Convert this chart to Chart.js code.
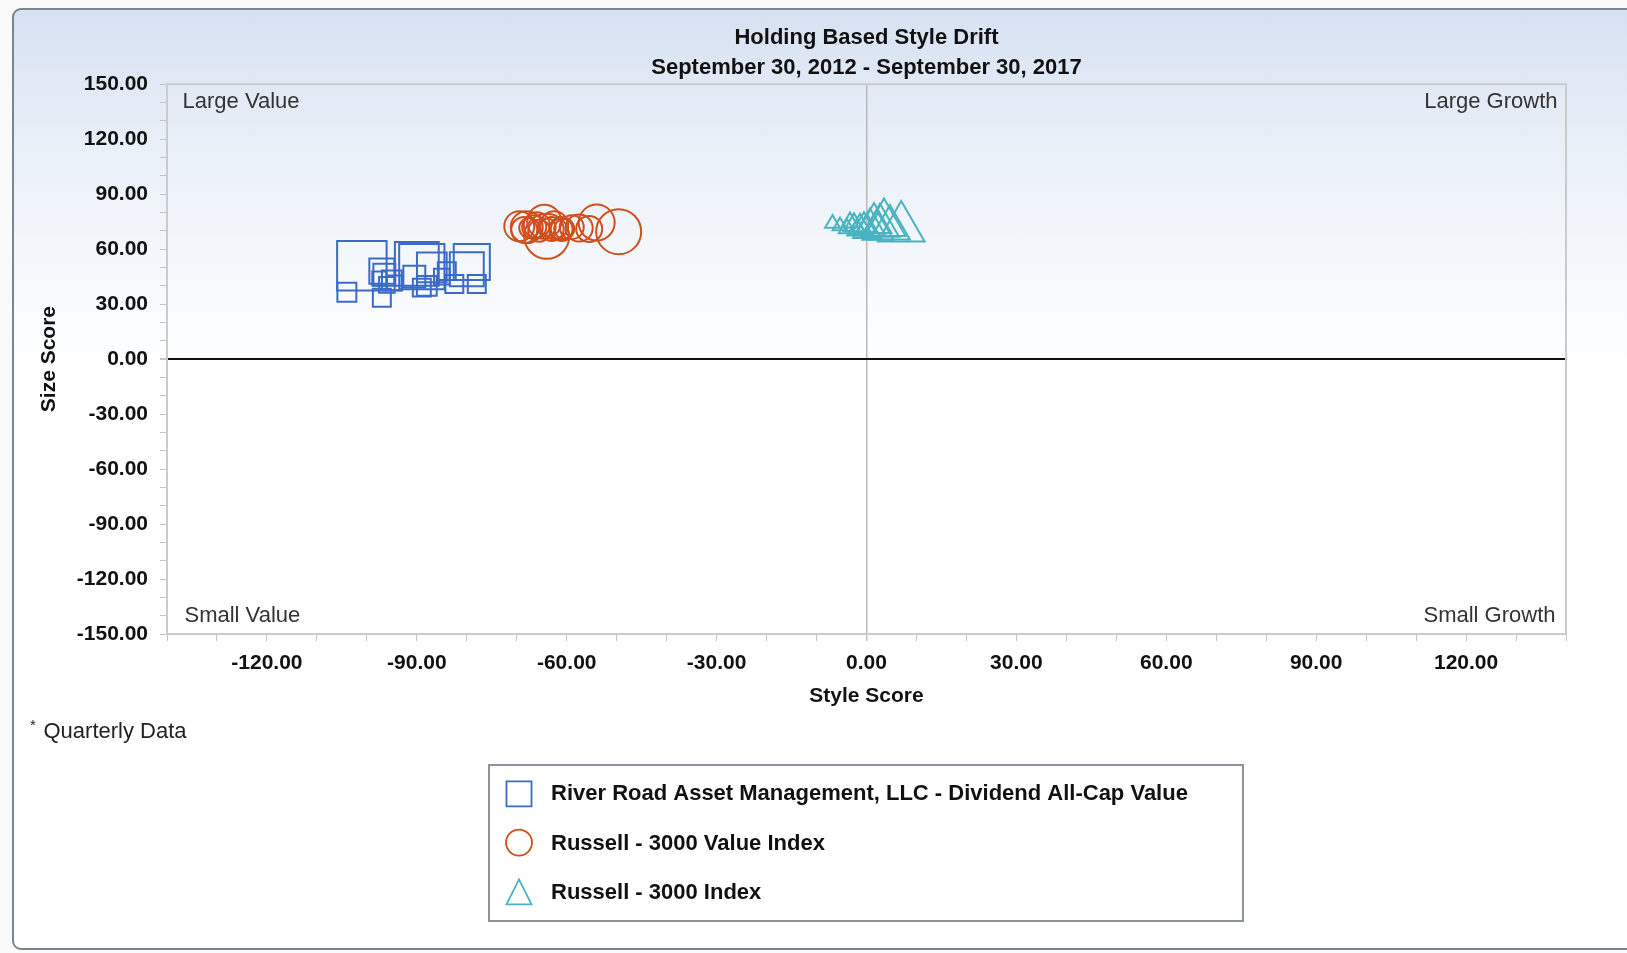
<!DOCTYPE html>
<html>
<head>
<meta charset="utf-8">
<script src="https://cdn.jsdelivr.net/npm/chart.js@4.4.0/dist/chart.umd.min.js"></script>
<style>
  html, body { margin: 0; padding: 0; background: #fafafa; overflow: hidden; }
  #frame {
    position: absolute; left: 12px; top: 8px; width: 1640px; height: 938px;
    border: 2px solid #7d868e; border-radius: 9px;
    background: linear-gradient(to bottom, #d7e1f2 0px, #eaf0f8 140px, #ffffff 360px);
  }
  #chart { position: absolute; left: 0; top: 0; }
</style>
</head>
<body>
<div id="frame"></div>
<canvas id="chart" width="1627" height="953"></canvas>
<script>
// style score (x), size score (y), bubble radius per quarter
const riverRoadStyle = [-101, -104, -97, -97, -90, -89, -89, -84, -82.5, -79, -78, -95, -96, -87, -97.5, -94.5, -88, -96.5, -85, -80, -90.5];
const riverRoadSize  = [51, 36.5, 48, 33.5, 52, 50.5, 39, 48, 41, 53, 41, 43, 40.5, 50, 44, 41.5, 40, 46, 45, 49, 45];
const riverRoadR     = [35, 13.4, 17.7, 12.7, 31, 32, 12.7, 12.7, 12.7, 25.5, 12.7, 14, 11, 21, 10, 10.5, 14, 15.5, 11, 24, 15.5];

const valueStyle = [-49.6, -54, -64, -57.5, -66.5, -69.5, -68, -61, -64.5, -61, -67.5, -60.5, -63, -66, -65.5, -59, -62.5, -68.5, -55.5, -64];
const valueSize  = [69.5, 74.5, 67, 71.5, 72, 72.5, 72, 71, 75, 71, 71.5, 71, 71, 73, 70, 72, 73, 70.5, 71, 72];
const valueR     = [22.5, 18, 22.5, 13.5, 12, 15, 16, 12, 17, 11, 10, 10, 12, 13, 11, 12, 14, 13, 13, 9];

const indexStyle = [6.95, 3.5, 2.7, 0.7, -6.8, -3.9, -2.5, -1.3, 1.5, 4.7, -5.3, -3.3, -0.5, 0.1, -1.9, 2.3];
const indexSize  = [71.6, 74, 72.8, 72.3, 74, 71.2, 73.1, 71.7, 74.2, 71.5, 72.6, 74.5, 73.1, 70.4, 70.4, 70.1];
const indexR     = [27, 25, 22, 18, 8.5, 9.5, 12, 14, 20, 23, 8.5, 10, 13, 16, 11, 18];

const seriesNames = ['River Road Asset Management, LLC - Dividend All-Cap Value', 'Russell - 3000 Value Index', 'Russell - 3000 Index'];
const seriesColors = ['#3a6bc6', '#cf4f1d', '#48b4c1'];
const seriesShapes = ['rect', 'circle', 'triangle'];
const cornerLabels = ['Large Value', 'Large Growth', 'Small Value', 'Small Growth'];
const titleText = 'Holding Based Style Drift';
const subtitleText = 'September 30, 2012 - September 30, 2017';
const noteText = 'Quarterly Data';

const FONT = '"Liberation Sans", Arial, sans-serif';

function toPoints(xs, ys, rs) {
  return xs.map((x, i) => ({ x: x, y: ys[i], r: rs[i] }));
}

const quadrantPlugin = {
  id: 'quadrants',
  beforeDatasetsDraw(chart) {
    const { ctx, chartArea: a } = chart;
    ctx.save();
    ctx.strokeStyle = '#cbcbcb';
    ctx.lineWidth = 2;
    ctx.strokeRect(a.left, a.top, a.right - a.left, a.bottom - a.top);
    ctx.font = '22px ' + FONT;
    ctx.fillStyle = '#333';
    ctx.textBaseline = 'middle';
    ctx.textAlign = 'left';
    ctx.fillText(cornerLabels[0], a.left + 15.5, a.top + 18);
    ctx.fillText(cornerLabels[2], a.left + 17.5, a.bottom - 18.5);
    ctx.textAlign = 'right';
    ctx.fillText(cornerLabels[1], a.right - 8.5, a.top + 18);
    ctx.fillText(cornerLabels[3], a.right - 10.5, a.bottom - 18.5);
    ctx.restore();
  },
  afterDraw(chart) {
    const ctx = chart.ctx;
    ctx.save();
    // note
    ctx.fillStyle = '#222';
    ctx.textBaseline = 'middle';
    ctx.textAlign = 'left';
    ctx.font = '15px ' + FONT;
    ctx.fillText('*', 30, 726);
    ctx.font = '22px ' + FONT;
    ctx.fillText(noteText, 43.5, 731.5);

    // legend box
    ctx.fillStyle = '#ffffff';
    ctx.fillRect(489, 765, 754, 156);
    ctx.strokeStyle = '#8c939b';
    ctx.lineWidth = 2;
    ctx.strokeRect(489, 765, 754, 156);

    const ds = chart.data.datasets;
    ds.forEach((d, i) => {
      const cy = 793.8 + i * 49.8;
      const cx = 519;
      ctx.strokeStyle = d.borderColor;
      ctx.lineWidth = 1.8;
      ctx.beginPath();
      if (d.pointStyle === 'rect') {
        ctx.rect(cx - 12.5, cy - 12.5, 25, 25);
      } else if (d.pointStyle === 'circle') {
        ctx.arc(cx, cy - 1, 13, 0, Math.PI * 2);
      } else {
        ctx.moveTo(cx, cy - 14);
        ctx.lineTo(cx + 12.5, cy + 11);
        ctx.lineTo(cx - 12.5, cy + 11);
        ctx.closePath();
      }
      ctx.stroke();
      ctx.fillStyle = '#111';
      ctx.font = 'bold 22px ' + FONT;
      ctx.fillText(d.label, 551, cy);
    });
    ctx.restore();
  }
};

const datasets = [
  toPoints(riverRoadStyle, riverRoadSize, riverRoadR),
  toPoints(valueStyle, valueSize, valueR),
  toPoints(indexStyle, indexSize, indexR)
].map((pts, i) => ({
  label: seriesNames[i],
  data: pts,
  pointStyle: seriesShapes[i],
  borderColor: seriesColors[i],
  backgroundColor: 'rgba(0,0,0,0)',
  borderWidth: 2,
  order: i
}));

const tickFont = { family: FONT, size: 21, weight: 'bold' };
const label30 = (v) => (Math.round(v) % 30 === 0 ? Number(v).toFixed(2) : '');

new Chart(document.getElementById('chart').getContext('2d'), {
  type: 'bubble',
  data: { datasets: datasets },
  options: {
    responsive: false,
    devicePixelRatio: 1,
    animation: false,
    layout: { padding: { top: 0, left: 0, right: 61, bottom: 239 } },
    plugins: {
      legend: { display: false },
      tooltip: { enabled: false },
      title: {
        display: true, text: titleText, fullSize: false, color: '#111',
        font: { family: FONT, size: 22, weight: 'bold' },
        padding: { top: 25, bottom: 0 }
      },
      subtitle: {
        display: true, text: subtitleText, fullSize: false, color: '#111',
        font: { family: FONT, size: 22, weight: 'bold' },
        padding: { top: 3, bottom: 3.4 }
      }
    },
    scales: {
      x: {
        type: 'linear', min: -140, max: 140,
        afterFit: (s) => { s.height = 80; },
        border: { display: false },
        grid: {
          drawOnChartArea: true, drawTicks: true, tickLength: 7,
          tickColor: '#c4c4c4',
          color: (c) => (c.tick && c.tick.value === 0 ? '#b9b9b9' : 'rgba(0,0,0,0)'),
          lineWidth: (c) => (c.tick && c.tick.value === 0 ? 1.5 : 1)
        },
        ticks: { stepSize: 10, autoSkip: false, maxRotation: 0, padding: 10, color: '#111', font: tickFont, callback: label30 },
        title: { display: true, text: 'Style Score', color: '#111', font: tickFont, padding: { top: 0, bottom: 5.4 } }
      },
      y: {
        type: 'linear', min: -150, max: 150,
        afterFit: (s) => { s.width = 167; },
        border: { display: false },
        grid: {
          drawOnChartArea: true, drawTicks: true, tickLength: 7,
          tickColor: '#c4c4c4',
          color: (c) => (c.tick && c.tick.value === 0 ? '#111' : 'rgba(0,0,0,0)'),
          lineWidth: (c) => (c.tick && c.tick.value === 0 ? 2 : 1)
        },
        ticks: { stepSize: 10, autoSkip: false, padding: 12, color: '#111', font: tickFont, callback: label30 },
        title: { display: true, text: 'Size Score', color: '#111', font: tickFont, padding: { top: 36.4, bottom: 0 } }
      }
    }
  },
  plugins: [quadrantPlugin]
});
</script>
</body>
</html>
